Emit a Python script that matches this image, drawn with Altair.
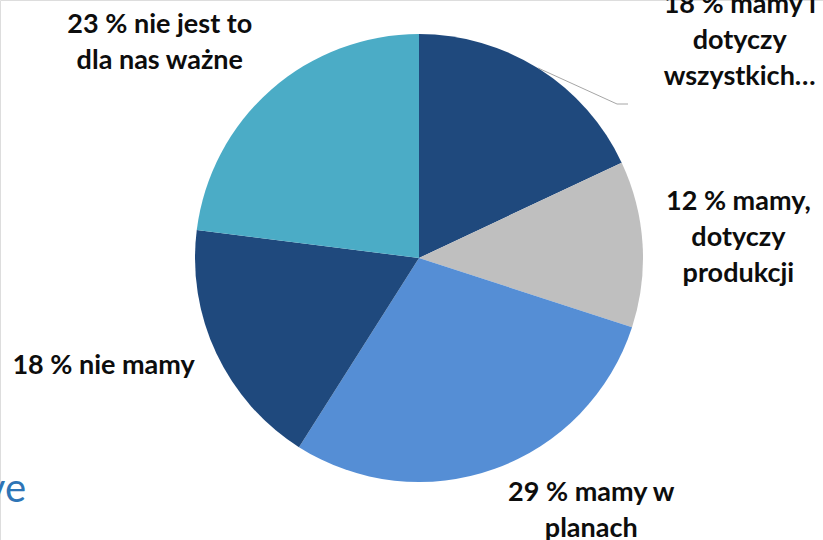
import altair as alt
import pandas as pd

categories = ["18 % mamy i dotyczy wszystkich…", "12 % mamy, dotyczy produkcji",
              "29 % mamy w planach", "18 % nie mamy", "23 % nie jest to dla nas ważne"]
values = [18, 12, 29, 18, 23]
labels = ["18 % mamy i\ndotyczy\nwszystkich…", "12 % mamy,\ndotyczy\nprodukcji",
          "29 % mamy w\nplanach", "18 % nie mamy", "23 % nie jest to\ndla nas ważne"]
colors = ["#1F497D", "#BFBFBF", "#558ED5", "#1F497D", "#4BACC6"]

df = pd.DataFrame({"cat": categories, "value": values, "label": labels,
                   "order": list(range(len(values)))})
total = sum(values)

CX, CY, R = 419, 258, 224
FONT = "Lato"
theta_scale = alt.Scale(domain=[0, total])

pie = alt.Chart(df).mark_arc(radius=R).encode(
    theta=alt.Theta("value:Q", stack=True, scale=theta_scale),
    order=alt.Order("order:Q"),
    color=alt.Color("cat:N", scale=alt.Scale(domain=categories, range=colors), legend=None),
    x=alt.value(CX), y=alt.value(CY),
)

# label placement (radius, dx, dy) per slice
place = [(354, 131, 46), (320, 0, -36), (296, 72, -44), (332, -15, -33), (333, -39, 17)]
label_layers = []
for i, (r, dx, dy) in enumerate(place):
    label_layers.append(
        alt.Chart(df)
        .transform_stack(stack="value", groupby=[], as_=["v0", "v1"],
                         sort=[alt.SortField("order", order="ascending")])
        .transform_calculate(mid="(datum.v0 + datum.v1) / 2")
        .transform_filter(alt.datum.order == i)
        .mark_text(radius=r, dx=dx, dy=dy, font=FONT, fontWeight="bold", fontSize=27,
                   lineBreak="\n", lineHeight=36, align="center", baseline="middle",
                   color="#0D0D0D")
        .encode(theta=alt.Theta("mid:Q", stack=None, scale=theta_scale),
                text="label:N", x=alt.value(CX), y=alt.value(CY))
    )

leader1 = alt.Chart(df.head(1)).mark_rule(color="#A6A6A6", strokeWidth=1).encode(
    x=alt.value(538), y=alt.value(68), x2=alt.value(617), y2=alt.value(104))
leader2 = alt.Chart(df.head(1)).mark_rule(color="#A6A6A6", strokeWidth=1).encode(
    x=alt.value(617), y=alt.value(104), x2=alt.value(628), y2=alt.value(104))

ve = alt.Chart(df.head(1)).mark_text(text="ve", font=FONT, fontSize=40, color="#2E75B6",
                                     align="right", baseline="alphabetic").encode(
    x=alt.value(26), y=alt.value(502))

chart = alt.layer(pie, leader1, leader2, ve, *label_layers).properties(
    width=823, height=540, padding=0, autosize="none"
).configure_view(stroke=None).configure(background="white")

chart.save("out.html", embed_options={"renderer": "svg", "actions": False})
